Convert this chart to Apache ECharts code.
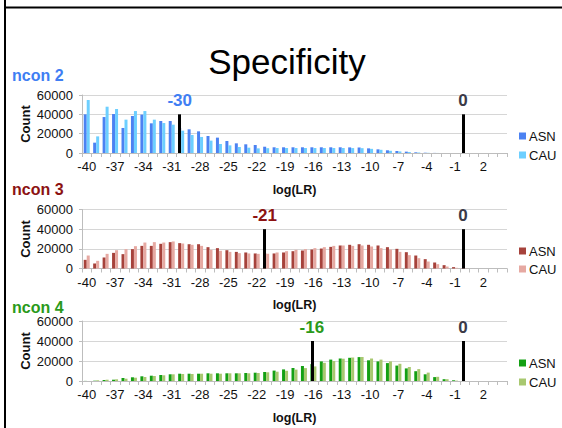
<!DOCTYPE html>
<html><head><meta charset="utf-8">
<script src="https://cdn.jsdelivr.net/npm/echarts@6/dist/echarts.min.js"></script>
<style>html,body{margin:0;padding:0;background:#fff}#c{width:562px;height:428px}</style>
</head><body><div id="c"></div>
<script>
const categories = ['-40','-39','-38','-37','-36','-35','-34','-33','-32','-31','-30','-29','-28','-27','-26','-25','-24','-23','-22','-21','-20','-19','-18','-17','-16','-15','-14','-13','-12','-11','-10','-9','-8','-7','-6','-5','-4','-3','-2','-1','0','1','2','3','4'];

const ncon2ASN = [40000,10700,37200,40300,25900,38300,39700,30700,33100,33100,25900,24500,22400,17600,15900,12400,10000,9000,8300,6500,5900,5900,5900,5900,5900,5900,5900,5900,5800,5700,4800,3800,2800,2100,1400,700,300,100,0,0,0,0,0,0,0];
const ncon2CAU = [54800,17200,47900,45500,34500,43400,43400,34500,31000,29300,23100,18600,16600,12800,9300,7900,6200,5500,4800,5000,5200,5200,5200,5200,5200,5200,5200,5200,5100,5000,4300,3300,2300,1600,1000,500,200,50,0,0,0,0,0,0,0];

const ncon3ASN = [8800,5100,11200,15900,14600,19700,23000,23000,25100,26800,25800,24700,24700,21700,20700,18600,16900,16300,15300,15300,15300,16300,17600,18300,19300,20300,22000,23400,24100,24700,24100,23400,21700,20000,16600,13200,9500,6100,3400,1400,300,0,0,0,0];
const ncon3CAU = [13200,7800,14900,18600,19700,22700,26400,26800,26400,27500,25400,24100,23000,19000,18000,16900,15600,15300,14900,15000,16300,17600,19000,19700,20700,21700,23000,23400,23000,23400,22400,20700,19300,16900,13600,10500,7100,4400,2000,700,200,0,0,0,0];

const ncon4ASN = [100,300,1000,1300,3000,3700,4700,5300,6000,6700,7300,7300,7300,7700,7700,7700,7700,8000,8300,9000,10400,11600,13000,15000,16900,19600,21400,22500,23200,23900,20700,19600,17900,15400,12600,9800,6700,3900,1800,700,0,0,0,0,0];
const ncon4CAU = [0,700,1300,1700,2300,3300,4000,5000,5700,6700,7000,7000,7300,7300,7300,7700,7700,7700,8000,8700,9300,10200,11400,12900,14600,18200,20000,22300,23500,24000,22500,21400,19600,17200,14000,11900,8400,4200,1800,350,0,0,0,0,0];

const yTicks = [0,20000,40000,60000];
const panelNames = ['ncon 2','ncon 3','ncon 4'];
const thresholds = ['-30','-21','-16'];
const zeroLine = '0';
const lineTop = 40000;

const FONT = '"Liberation Sans", Arial, sans-serif';
const panels = [
  {asn: ncon2ASN, cau: ncon2CAU, top: 95, height: 58, cA:'#4C82F2', cC:'#6DCFFF', lab:'#3F7EF3', legTop:124.5, gap:6, nameY:75.5},
  {asn: ncon3ASN, cau: ncon3CAU, top: 209.5, height: 59, cA:'#A6423B', cC:'#E6A9A2', lab:'#8C1212', legTop:239.5, gap:5, nameY:189},
  {asn: ncon4ASN, cau: ncon4CAU, top: 321, height: 60, cA:'#14A014', cC:'#A8C870', lab:'#2A9A1A', legTop:351.5, gap:6, nameY:307}
];

const grid = [], xAxis = [], yAxis = [], series = [], legend = [], graphic = [];
panels.forEach((p, i) => {
  grid.push({left: 82, right: 55, top: p.top, height: p.height, containLabel: false});
  xAxis.push({
    type: 'category', gridIndex: i, data: categories,
    axisLine: {lineStyle: {color: '#BDBDBD', width: 1}},
    axisTick: {show: true, interval: 0, length: 4, lineStyle: {color: '#BDBDBD'}},
    axisLabel: {interval: 2, color: '#111', fontSize: 13, fontFamily: FONT, margin: 7},
    name: 'log(LR)', nameLocation: 'middle', nameGap: 30,
    nameTextStyle: {fontWeight: 'bold', fontSize: 12.5, fontFamily: FONT, color: '#111'}
  });
  yAxis.push({
    type: 'value', gridIndex: i, min: 0, max: 60000, interval: 20000,
    axisLine: {show: true, lineStyle: {color: '#BDBDBD'}},
    axisTick: {show: true, length: 3, lineStyle: {color: '#BDBDBD'}},
    splitLine: {lineStyle: {color: '#D6D6D6'}},
    axisLabel: {formatter: v => String(v), color: '#111', fontSize: 13, fontFamily: FONT, margin: 9},
    name: 'Count', nameLocation: 'middle', nameGap: 50, nameRotate: 90, nameMoveOverlap: false,
    nameTextStyle: {fontWeight: 'bold', fontSize: 13, fontFamily: FONT, color: '#111'}
  });
  const sfx = String(i + 2);
  series.push({
    name: 'ASN' + sfx, type: 'bar', xAxisIndex: i, yAxisIndex: i, data: p.asn,
    barWidth: 3, barGap: '0%', itemStyle: {color: p.cA}, silent: true,
    markLine: {
      silent: true, symbol: 'none', animation: false,
      lineStyle: {color: '#000', width: 3, type: 'solid'},
      label: {show: true, position: 'end', distance: 5, fontSize: 17, fontWeight: 'bold', fontFamily: FONT},
      data: [
        [{coord: [thresholds[i], 0], label: {formatter: thresholds[i], color: p.lab}}, {coord: [thresholds[i], lineTop]}],
        [{coord: [zeroLine, 0], label: {formatter: zeroLine, color: '#3A3A48'}}, {coord: [zeroLine, lineTop]}]
      ]
    }
  });
  series.push({
    name: 'CAU' + sfx, type: 'bar', xAxisIndex: i, yAxisIndex: i, data: p.cau,
    barWidth: 3, barGap: '0%', itemStyle: {color: p.cC}, silent: true
  });
  legend.push({
    data: ['ASN' + sfx, 'CAU' + sfx], orient: 'vertical', left: 514, top: p.legTop,
    itemWidth: 7, itemHeight: 7, itemGap: p.gap, icon: 'rect', selectedMode: false,
    formatter: n => n.slice(0, 3),
    textStyle: {fontSize: 13, fontFamily: FONT, color: '#111', lineHeight: 13, padding: [0,0,0,-2]}
  });
  graphic.push({type: 'text', x: 12, y: p.nameY, style: {text: panelNames[i], font: 'bold 16px ' + FONT, fill: p.lab, verticalAlign: 'middle', align: 'left'}});
});

graphic.push({type: 'text', x: 287, y: 61, style: {text: 'Specificity', font: '35px ' + FONT, fill: '#000', verticalAlign: 'middle', align: 'center'}});
graphic.push({type: 'line', shape: {x1: 5, y1: 0, x2: 5, y2: 428}, style: {stroke: '#000', lineWidth: 2}});
graphic.push({type: 'line', shape: {x1: 4, y1: 7.5, x2: 562, y2: 7.5}, style: {stroke: '#000', lineWidth: 2}});

const chart = echarts.init(document.getElementById('c'), null, {renderer: 'svg'});
chart.setOption({animation: false, backgroundColor: '#fff', grid, xAxis, yAxis, series, legend, graphic});
</script></body></html>
